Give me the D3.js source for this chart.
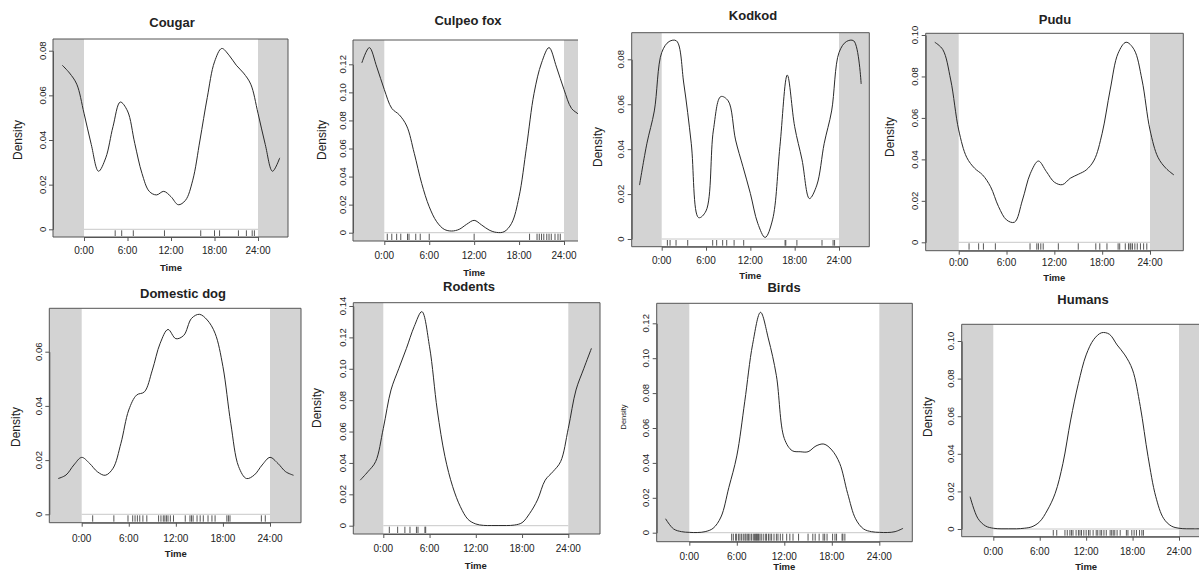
<!DOCTYPE html>
<html>
<head>
<meta charset="utf-8">
<script src="https://d3js.org/d3.v7.min.js"></script>
<style>
  body { margin: 0; background: #fff; }
  svg text { font-family: "Liberation Sans", Arial, sans-serif; fill: #222; }
</style>
</head>
<body>
<div id="chart"></div>
<script>
// activity density by hour (0:00 .. 23:00)
var hours = d3.range(0, 24);
var cougarDensity = [0.052, 0.038, 0.026, 0.032, 0.046, 0.057, 0.053, 0.0385, 0.025, 0.017, 0.0154, 0.017,
    0.0146, 0.011, 0.013, 0.022, 0.040, 0.059, 0.075, 0.081, 0.078, 0.0735, 0.070, 0.065];
var foxDensity = [0.102, 0.0886, 0.084, 0.076, 0.0566, 0.035, 0.0185, 0.0078, 0.0024, 0.0012, 0.0024, 0.006,
    0.0088, 0.0055, 0.0019, 0.0002, 0.0007, 0.0067, 0.0257, 0.0613, 0.0993, 0.121, 0.1319, 0.118];
var kodkodDensity = [0.083, 0.0879, 0.0882, 0.069, 0.0426, 0.0095, 0.0125, 0.0485, 0.0634, 0.0615, 0.0441, 0.0322,
    0.0203, 0.007, 0.0007, 0.0085, 0.0411, 0.073, 0.050, 0.0352, 0.018, 0.024, 0.0426, 0.057];
var puduDensity = [0.0542, 0.041, 0.0357, 0.0325, 0.0268, 0.0172, 0.0108, 0.0097, 0.0204, 0.0333, 0.0392, 0.0341,
    0.029, 0.0278, 0.0309, 0.0328, 0.0349, 0.0397, 0.0526, 0.0735, 0.0912, 0.0965, 0.093, 0.0783];
var dogDensity = [0.021, 0.0188, 0.0157, 0.0144, 0.017, 0.0262, 0.0385, 0.044, 0.0452, 0.0532, 0.0631, 0.0682,
    0.0648, 0.066, 0.0723, 0.0738, 0.0717, 0.0668, 0.0545, 0.0336, 0.0176, 0.0132, 0.0145, 0.0182];
var rodentDensity = [0.062, 0.0865, 0.1, 0.113, 0.1268, 0.1364, 0.114, 0.0737, 0.044, 0.0249, 0.0121, 0.004,
    0.0011, 0.0002, 0.0001, 0.0001, 0.0001, 0.0004, 0.0019, 0.0079, 0.0164, 0.029, 0.0344, 0.0408];
var birdDensity = [0.0002, 0.0001, 0.0006, 0.0025, 0.009, 0.026, 0.044, 0.075, 0.108, 0.1263, 0.111, 0.090,
    0.054, 0.047, 0.0464, 0.0464, 0.0497, 0.0508, 0.0474, 0.0397, 0.0225, 0.008, 0.0022, 0.0006];
var humanDensity = [0.0004, 0.0001, 0.0001, 0.0001, 0.0004, 0.0012, 0.0039, 0.0101, 0.019, 0.0349, 0.058, 0.0775,
    0.0926, 0.1009, 0.1044, 0.1036, 0.0979, 0.0926, 0.0846, 0.0651, 0.0385, 0.0172, 0.0057, 0.0016];

// detection times (hours) shown as rug
var cougarRug = [4.3, 5.2, 6.8, 11.1, 16.1, 18.0, 18.7, 21.3, 22.4, 23.2, 23.5];
var foxRug = [0.4, 1.0, 1.65, 2.2, 3.1, 3.3, 4.2, 4.8, 6.0, 12.0, 19.4, 20.4, 20.7, 21.0, 21.3, 21.7, 22.0,
    22.3, 22.8, 23.2, 23.5];
var kodkodRug = [0.77, 1.13, 1.94, 3.52, 6.9, 7.44, 8.25, 8.8, 9.8, 11.1, 16.7, 16.8, 18.3, 21.7, 23.2, 23.4];
var puduRug = [1.3, 2.5, 3.1, 4.6, 8.95, 9.8, 10.0, 10.3, 10.6, 12.5, 15.0, 17.2, 17.7, 18.6, 20.0, 20.2, 20.9,
    21.3, 21.5, 21.6, 21.8, 22.1, 22.4, 22.8, 23.2, 23.6];
var dogRug = [1.4, 4.1, 5.9, 6.5, 6.8, 7.1, 7.4, 7.8, 8.3, 9.8, 10.1, 10.4, 10.6, 10.8, 11.0, 11.3, 11.7, 13.2,
    13.8, 14.0, 14.2, 14.7, 15.1, 15.5, 16.1, 16.6, 17.0, 18.5, 18.7, 18.9, 22.9, 23.4];
var rodentRug = [0.78, 1.86, 2.8, 3.46, 4.3, 4.5, 5.4, 5.5];
var birdRug = [5.35, 5.56, 5.85, 5.98, 6.23, 6.4, 6.61, 6.82, 7.03, 7.15, 7.32, 7.49, 7.66, 7.87, 8.08, 8.25,
    8.38, 8.5, 8.63, 8.75, 8.92, 9.09, 9.34, 9.6, 9.76, 10.0, 10.2, 10.4, 10.7, 11.0, 11.2, 11.5, 11.8, 12.3,
    12.7, 13.1, 13.8, 15.0, 15.6, 15.9, 16.4, 16.9, 17.1, 17.4, 18.1, 18.4, 18.6, 19.3, 19.4, 19.65];
var humanRug = [7.75, 8.2, 9.26, 9.56, 9.9, 10.1, 10.3, 10.7, 11.0, 11.2, 11.4, 11.7, 12.0, 12.3, 12.5, 12.9,
    13.3, 13.5, 13.8, 14.0, 14.3, 14.6, 15.1, 15.3, 15.5, 15.7, 16.0, 16.4, 17.2, 17.4, 17.9, 18.2, 18.5,
    18.9, 19.2, 19.4];

// axis ticks
var timeTicks = [0, 6, 12, 18, 24];
var timeLabels = ["0:00", "6:00", "12:00", "18:00", "24:00"];
var ticks08 = [0, 0.02, 0.04, 0.06, 0.08];
var ticks06 = [0, 0.02, 0.04, 0.06];
var ticks10 = [0, 0.02, 0.04, 0.06, 0.08, 0.10];
var ticks12 = [0, 0.02, 0.04, 0.06, 0.08, 0.10, 0.12];
var ticks14 = [0, 0.02, 0.04, 0.06, 0.08, 0.10, 0.12, 0.14];

var titles = ["Cougar", "Culpeo fox", "Kodkod", "Pudu", "Domestic dog", "Rodents", "Birds", "Humans"];
var densities = [cougarDensity, foxDensity, kodkodDensity, puduDensity, dogDensity, rodentDensity, birdDensity, humanDensity];
var rugs = [cougarRug, foxRug, kodkodRug, puduRug, dogRug, rodentRug, birdRug, humanRug];
var yTicks = [ticks08, ticks12, ticks08, ticks10, ticks06, ticks14, ticks12, ticks10];

// panel placement in the figure (pixels): box, 0:00/24:00 positions, y of zero and of top tick
var layout = [
    { l: 53, r: 288, t: 39, b: 237, x0: 84, x24: 258, y0: 229.3, yTop: 50.7, tx: 172, ty: 22, lab: 250, time: 267, dx: 18, dy: 140, dSize: 12 },
    { l: 353, r: 578, t: 40, b: 241, x0: 384.3, x24: 564, y0: 232.7, yTop: 64.3, tx: 468, ty: 20, lab: 255, time: 272, dx: 322, dy: 140, dSize: 12, open: true },
    { l: 631.7, r: 869.3, t: 32.7, b: 246.7, x0: 661.7, x24: 839, y0: 239, yTop: 59.3, tx: 753, ty: 15, lab: 260, time: 275, dx: 598, dy: 147, dSize: 12 },
    { l: 925.7, r: 1183.3, t: 33.3, b: 250.7, x0: 958.7, x24: 1150, y0: 242.3, yTop: 35, tx: 1055, ty: 19, lab: 262, time: 277, dx: 890, dy: 137, dSize: 12 },
    { l: 49.3, r: 301, t: 308.3, b: 522.7, x0: 81.7, x24: 270, y0: 514.3, yTop: 351.7, tx: 183, ty: 293, lab: 538, time: 553, dx: 16, dy: 427, dSize: 12 },
    { l: 353.3, r: 600, t: 302.7, b: 534, x0: 383.3, x24: 568.3, y0: 525.7, yTop: 306, tx: 469, ty: 286, lab: 548, time: 565, dx: 317, dy: 408, dSize: 12 },
    { l: 656.7, r: 912.3, t: 303.3, b: 541.7, x0: 689.3, x24: 879.3, y0: 532.7, yTop: 323.3, tx: 784, ty: 287, lab: 556, time: 566, dx: 623, dy: 417, dSize: 7.5 },
    { l: 961.7, r: 1210, t: 324.3, b: 536.7, x0: 993.3, x24: 1179, y0: 529, yTop: 341, tx: 1083, ty: 299, lab: 551, time: 566, dx: 928, dy: 417, dSize: 12 }
];

var svg = d3.select("#chart")
    .append("svg")
    .attr("width", 1199)
    .attr("height", 572);

var fmtY = function (v) { return v === 0 ? "0" : d3.format(".2f")(v); };

titles.forEach(function (name, i) {
    var L = layout[i];
    var vals = densities[i];
    var ticks = yTicks[i];
    var x = d3.scaleLinear().domain([0, 24]).range([L.x0, L.x24]);
    var y = d3.scaleLinear().domain([0, ticks[ticks.length - 1]]).range([L.y0, L.yTop]);

    var g = svg.append("g");

    // background: night shading outside 0-24 h
    g.append("rect").attr("x", L.l).attr("y", L.t).attr("width", L.r - L.l).attr("height", L.b - L.t).attr("fill", "#d3d3d3");
    g.append("rect").attr("x", x(0)).attr("y", L.t).attr("width", x(24) - x(0)).attr("height", L.b - L.t).attr("fill", "#fff");

    // zero line
    g.append("line").attr("x1", x(0)).attr("x2", x(24)).attr("y1", y(0)).attr("y2", y(0))
        .attr("stroke", "#c8c8c8").attr("stroke-width", 1);

    // rug
    g.selectAll(".rug").data(rugs[i]).enter().append("line")
        .attr("x1", function (d) { return x(d); }).attr("x2", function (d) { return x(d); })
        .attr("y1", y(0) + 1).attr("y2", L.b - 1)
        .attr("stroke", "#444").attr("stroke-width", 0.9);

    // density curve, wrapped around the clock from -3 h to 27 h
    var pts = d3.range(-3, 28).map(function (h) {
        return [h, vals[((h % 24) + 24) % 24]];
    });
    var clipId = "clip" + i;
    g.append("clipPath").attr("id", clipId).append("rect")
        .attr("x", L.l).attr("y", L.t).attr("width", L.r - L.l).attr("height", L.b - L.t);
    g.append("path")
        .datum(pts)
        .attr("clip-path", "url(#" + clipId + ")")
        .attr("fill", "none")
        .attr("stroke", "#2a2a2a")
        .attr("stroke-width", 1)
        .attr("d", d3.line()
            .x(function (d) { return x(d[0]); })
            .y(function (d) { return y(d[1]); })
            .curve(d3.curveCatmullRom.alpha(0.5)));

    // box (the cropped fox panel has no right edge)
    var boxPath = "M" + L.r + "," + L.t + "H" + L.l + "V" + L.b + "H" + L.r + (L.open ? "" : "Z");
    g.append("path").attr("d", boxPath)
        .attr("fill", "none").attr("stroke", "#555").attr("stroke-width", 1);

    // x axis
    var xa = g.append("g").attr("transform", "translate(0," + L.b + ")")
        .call(d3.axisBottom(x).tickValues(timeTicks).tickSizeInner(4).tickSizeOuter(0));
    xa.select(".domain").attr("stroke", "#555");
    xa.selectAll("line").attr("stroke", "#555");
    xa.selectAll("text").remove();
    timeTicks.forEach(function (t, k) {
        g.append("text").attr("x", x(t)).attr("y", L.lab).attr("text-anchor", "middle")
            .attr("dominant-baseline", "central").style("font-size", "10px").text(timeLabels[k]);
    });

    // y axis
    var ya = g.append("g").attr("transform", "translate(" + L.l + ",0)")
        .call(d3.axisLeft(y).tickValues(ticks).tickSizeInner(4).tickSizeOuter(0));
    ya.select(".domain").attr("stroke", "#555");
    ya.selectAll("line").attr("stroke", "#555");
    ya.selectAll("text").remove();
    ticks.forEach(function (t) {
        g.append("text")
            .attr("transform", "translate(" + (L.l - 11) + "," + y(t) + ") rotate(-90)")
            .attr("text-anchor", "middle").attr("dominant-baseline", "central")
            .style("font-size", "9.5px").text(fmtY(t));
    });

    // labels
    g.append("text").attr("x", L.tx).attr("y", L.ty).attr("text-anchor", "middle").attr("dominant-baseline", "central")
        .style("font-size", "13px").style("font-weight", "bold").text(name);
    g.append("text").attr("x", (x(0) + x(24)) / 2).attr("y", L.time).attr("text-anchor", "middle").attr("dominant-baseline", "central")
        .style("font-size", "9.5px").style("font-weight", "bold").text("Time");
    g.append("text")
        .attr("transform", "translate(" + L.dx + "," + L.dy + ") rotate(-90)")
        .attr("text-anchor", "middle").attr("dominant-baseline", "central")
        .style("font-size", L.dSize + "px").text("Density");
});
</script>
</body>
</html>
